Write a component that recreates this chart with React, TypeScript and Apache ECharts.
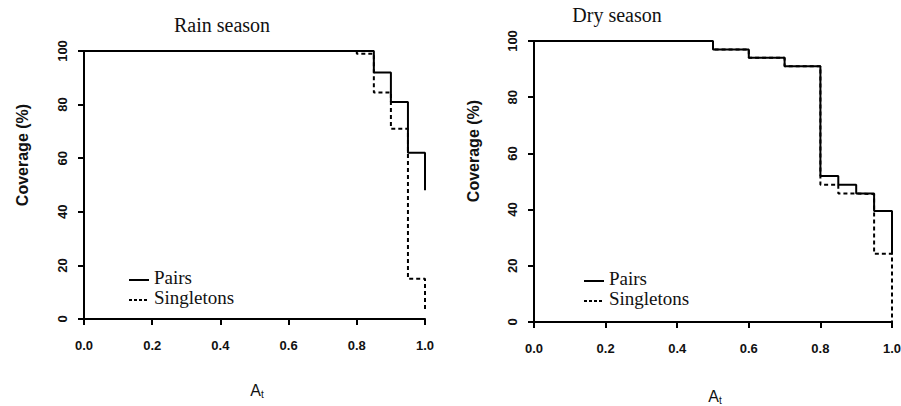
import React, { useEffect, useRef } from "react";
import * as echarts from "echarts";

// Rain season (step knots: value holds from x onward)
const rainPairsX = [0, 0.85, 0.9, 0.95, 1.0];
const rainPairsY = [100, 92, 81, 62, 48];
const rainSingX = [0, 0.8, 0.85, 0.9, 0.95, 1.0];
const rainSingY = [100, 99, 84.5, 71, 15, 3];

// Dry season
const dryPairsX = [0, 0.5, 0.6, 0.7, 0.8, 0.85, 0.9, 0.95, 1.0];
const dryPairsY = [100, 97, 94, 91, 52, 48.8, 45.7, 39.5, 24];
const drySingX = [0, 0.5, 0.6, 0.7, 0.8, 0.85, 0.9, 0.95, 1.0];
const drySingY = [100, 97, 94, 91, 48.8, 45.7, 45.5, 24.3, 0];

const panelTitles = ["Rain season", "Dry season"];
const seriesNames = ["Pairs", "Singletons"];
const yAxisTitle = "Coverage (%)";

const zip = (xs: number[], ys: number[]) => xs.map((x, i) => [x, ys[i]]);

const SANS = "Liberation Sans";
const SERIF = "Liberation Serif";

export default function App() {
  const ref = useRef<HTMLDivElement>(null);
  useEffect(() => {
    if (!ref.current) return;
    const chart = echarts.init(ref.current, undefined, { renderer: "svg" });

    const xAxisBase = (gridIndex: number) => ({
      type: "value",
      gridIndex,
      min: 0,
      max: 1,
      interval: 0.2,
      axisLine: { show: true, lineStyle: { color: "#000", width: 2 } },
      axisTick: { show: true, length: 6, lineStyle: { color: "#000", width: 2 } },
      axisLabel: {
        padding: [12, 0, 0, 0],
        color: "#111",
        fontFamily: SANS,
        fontWeight: "bold",
        fontSize: 13,
        formatter: (v: any) => Number(v).toFixed(1),
      },
      splitLine: { show: false },
    });
    const yAxisBase = (gridIndex: number) => ({
      type: "value",
      gridIndex,
      min: 0,
      max: 100,
      interval: 20,
      axisLine: { show: true, lineStyle: { color: "#000", width: 2 } },
      axisTick: { show: true, length: 6, lineStyle: { color: "#000", width: 2 } },
      axisLabel: {
        margin: 15,
        rotate: 90,
        color: "#111",
        fontFamily: SANS,
        fontWeight: "bold",
        fontSize: 13,
      },
      splitLine: { show: false },
    });

    const solid = { color: "#000", width: 2, type: "solid" };
    const dashed = { color: "#000", width: 2, type: [4, 3] };

    const mk = (name: string, xi: number, data: number[][], ls: any, z: number) => ({
      name,
      type: "line",
      xAxisIndex: xi,
      yAxisIndex: xi,
      step: "end",
      symbol: "none",
      showSymbol: false,
      data,
      lineStyle: ls,
      itemStyle: { color: "#000" },
      z,
    });

    const legendKeys = (lx: number, ly: number) => {
      const out: any[] = [];
      seriesNames.forEach((n, i) => {
        const y = ly + i * 20;
        const style: any = { stroke: "#000", lineWidth: 2 };
        if (i === 1) style.lineDash = [3, 2];
        out.push({
          type: "line",
          shape: { x1: lx, y1: y + 3, x2: lx + 20, y2: y + 3 },
          style,
        });
        out.push({
          type: "text",
          x: lx + 25,
          y,
          style: { text: n, fontFamily: SERIF, fontSize: 19, fill: "#111", align: "left", verticalAlign: "middle" },
        });
      });
      return out;
    };

    const subRich = {
      a: { fontFamily: SANS, fontSize: 16, fill: "#111" },
      s: { fontFamily: SANS, fontSize: 10, fill: "#111", padding: [8, 0, 0, 0] },
    };

    chart.setOption({
      animation: false,
      grid: [
        { left: 84, top: 51, width: 341, height: 268, containLabel: false, outerBoundsMode: "none" },
        { left: 534, top: 41, width: 358, height: 281, containLabel: false, outerBoundsMode: "none" },
      ],
      xAxis: [xAxisBase(0), xAxisBase(1)],
      yAxis: [yAxisBase(0), yAxisBase(1)],
      series: [
        mk(seriesNames[0], 0, zip(rainPairsX, rainPairsY), solid, 2),
        mk(seriesNames[1], 0, zip(rainSingX, rainSingY), dashed, 3),
        mk(seriesNames[0], 1, zip(dryPairsX, dryPairsY), solid, 2),
        mk(seriesNames[1], 1, zip(drySingX, drySingY), dashed, 3),
      ],
      graphic: [
        ...legendKeys(129, 277),
        ...legendKeys(584, 278),
        {
          type: "text",
          x: 222,
          y: 25,
          style: { text: panelTitles[0], fontFamily: SERIF, fontSize: 20, fill: "#111", align: "center", verticalAlign: "middle" },
        },
        {
          type: "text",
          x: 617,
          y: 15,
          style: { text: panelTitles[1], fontFamily: SERIF, fontSize: 20, fill: "#111", align: "center", verticalAlign: "middle" },
        },
        {
          type: "text",
          x: 22,
          y: 155,
          rotation: Math.PI / 2,
          style: { text: yAxisTitle, fontFamily: SANS, fontWeight: "bold", fontSize: 16, fill: "#111", align: "center", verticalAlign: "middle" },
        },
        {
          type: "text",
          x: 473,
          y: 151,
          rotation: Math.PI / 2,
          style: { text: yAxisTitle, fontFamily: SANS, fontWeight: "bold", fontSize: 16, fill: "#111", align: "center", verticalAlign: "middle" },
        },
        {
          type: "text",
          x: 257,
          y: 390,
          style: { text: "{a|A}{s|t}", rich: subRich, align: "center", verticalAlign: "middle" },
        },
        {
          type: "text",
          x: 715,
          y: 396,
          style: { text: "{a|A}{s|t}", rich: subRich, align: "center", verticalAlign: "middle" },
        },
      ],
    });
    return () => chart.dispose();
  }, []);
  return (
    <div
      ref={ref}
      style={{ position: "fixed", left: 0, top: 0, width: 901, height: 406, background: "#fff" }}
    />
  );
}
